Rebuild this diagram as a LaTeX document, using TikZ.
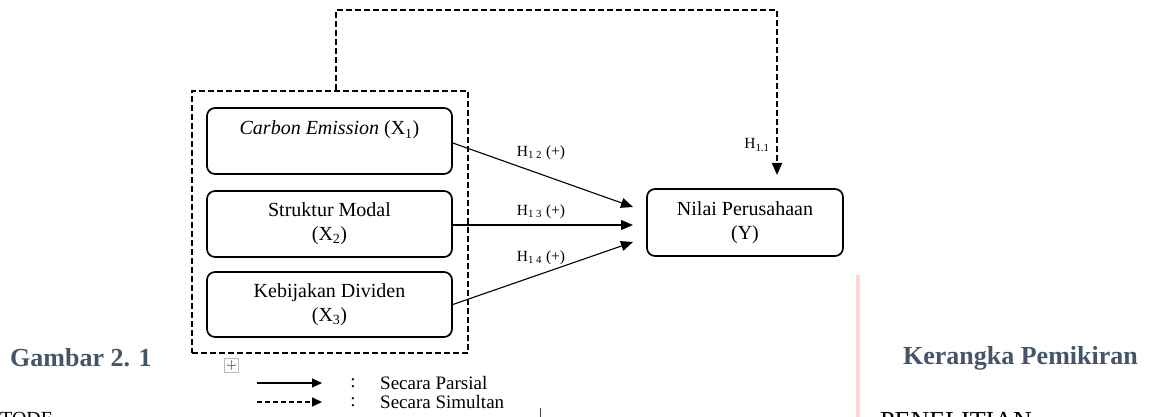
\documentclass[tikz,border=0pt]{standalone}
\usepackage{fontspec}
\setmainfont{Liberation Serif}
\usetikzlibrary{arrows.meta,calc}
\definecolor{headblue}{HTML}{44546A}
\definecolor{pinkline}{HTML}{FFD6D6}
\begin{document}
\begin{tikzpicture}[x=1pt,y=-1pt,
  varbox/.style={draw,line width=1.7pt,rounded corners=8pt,minimum width=245pt,minimum height=66pt,align=center,font=\fontsize{20}{24}\selectfont,inner sep=0pt},
  groupbox/.style={draw,line width=1.8pt,dash pattern=on 6pt off 3pt},
  simline/.style={line width=1.8pt,dash pattern=on 6pt off 3pt},
  parline/.style={line width=1.1pt},
  bigtip/.style={-{Triangle[length=12pt,width=10pt]}},
  smalltip/.style={-{Triangle[length=10pt,width=9pt]}},
  hlab/.style={font=\fontsize{15.5}{18}\selectfont,inner sep=0pt},
  legtext/.style={font=\fontsize{19}{21}\selectfont,inner sep=0pt},
  headtext/.style={font=\fontsize{26}{30}\selectfont\bfseries,text=headblue,inner sep=0pt},
  bodytext/.style={inner sep=0pt,anchor=north west}
]
\useasboundingbox (0,0) rectangle (1149,417);
\clip (0,0) rectangle (1149,417);

% group box and variable boxes
\node[groupbox,minimum width=276pt,minimum height=262pt] (grp) at (330,222) {};
\node[varbox] (x1) at (329.5,141) {\textit{Carbon Emission} (X\textsubscript{1})\\[2pt] ~};
\node[varbox] (x2) at (329.5,224) {Struktur Modal\\(X\textsubscript{2})};
\node[varbox,minimum height=65pt] (x3) at (329.5,304.5) {Kebijakan Dividen\\(X\textsubscript{3})};
\node[varbox,minimum width=196pt,minimum height=67pt] (y) at (745,222.5) {Nilai Perusahaan\\(Y)};

% partial arrows
\coordinate (t2) at (633,207);
\coordinate (t3) at (633,225);
\coordinate (t4) at (633,242);
\draw[parline,bigtip] ($(x1.east)+(0,2)$) -- (t2);
\draw[parline,bigtip] ($(x2.east)+(0,1)$) -- (t3);
\draw[parline,bigtip] (x3.east) -- (t4);
\node[hlab] (l2) at (541,153) {H\textsubscript{1 2} (+)};
\node[hlab] (l3) at (541,212) {H\textsubscript{1 3} (+)};
\node[hlab] (l4) at (541,258) {H\textsubscript{1 4} (+)};

% simultaneous arrow
\coordinate (up) at (336,10);
\coordinate (t1) at (777,175);
\draw[simline,bigtip] (grp.north -| up) -- (up) -| (t1);
\node[hlab] (l1) at (757,145) {H\textsubscript{1.1}};

% legend
\node[draw=gray!55,line width=0.6pt,fill=white,minimum size=14pt,inner sep=0pt] (ico) at (231.5,365) {};
\draw[gray,line width=0.5pt,{Stealth[length=2pt]}-{Stealth[length=2pt]}] ($(ico.center)+(-5,0)$) -- ($(ico.center)+(5,0)$);
\draw[gray,line width=0.5pt,{Stealth[length=2pt]}-{Stealth[length=2pt]}] ($(ico.center)+(0,-5)$) -- ($(ico.center)+(0,5)$);
\coordinate (ls1) at (257,383);
\coordinate (le1) at (322,383);
\coordinate (ls2) at (257,402);
\coordinate (le2) at (322,402);
\draw[parline,smalltip] (ls1) -- (le1);
\draw[line width=1.6pt,dash pattern=on 5pt off 3pt,smalltip] (ls2) -- (le2);
\node[legtext] (c1) at (353,383) {:};
\node[legtext] (c2) at (353,402) {:};
\node[legtext,anchor=west] (lp) at (380,383) {Secara Parsial};
\node[legtext,anchor=west] (ls) at (380,402) {Secara Simultan};
\draw[black!75,line width=1pt] (540,408) -- (540,417);

% page texts
\node[headtext,anchor=west] (gam) at (10,358) {Gambar 2. 1};
\node[headtext,anchor=east] (ker) at (1138,358) {Kerangka Pemikiran};
\draw[pinkline,line width=4.5pt] (858,275) -- (858,417);
\node[bodytext,font=\fontsize{20}{24}\selectfont] (tode) at (0,412) {TODE};
\node[bodytext,font=\fontsize{26}{30}\selectfont] (pen) at (880,412) {PENELITIAN};
\end{tikzpicture}
\end{document}
